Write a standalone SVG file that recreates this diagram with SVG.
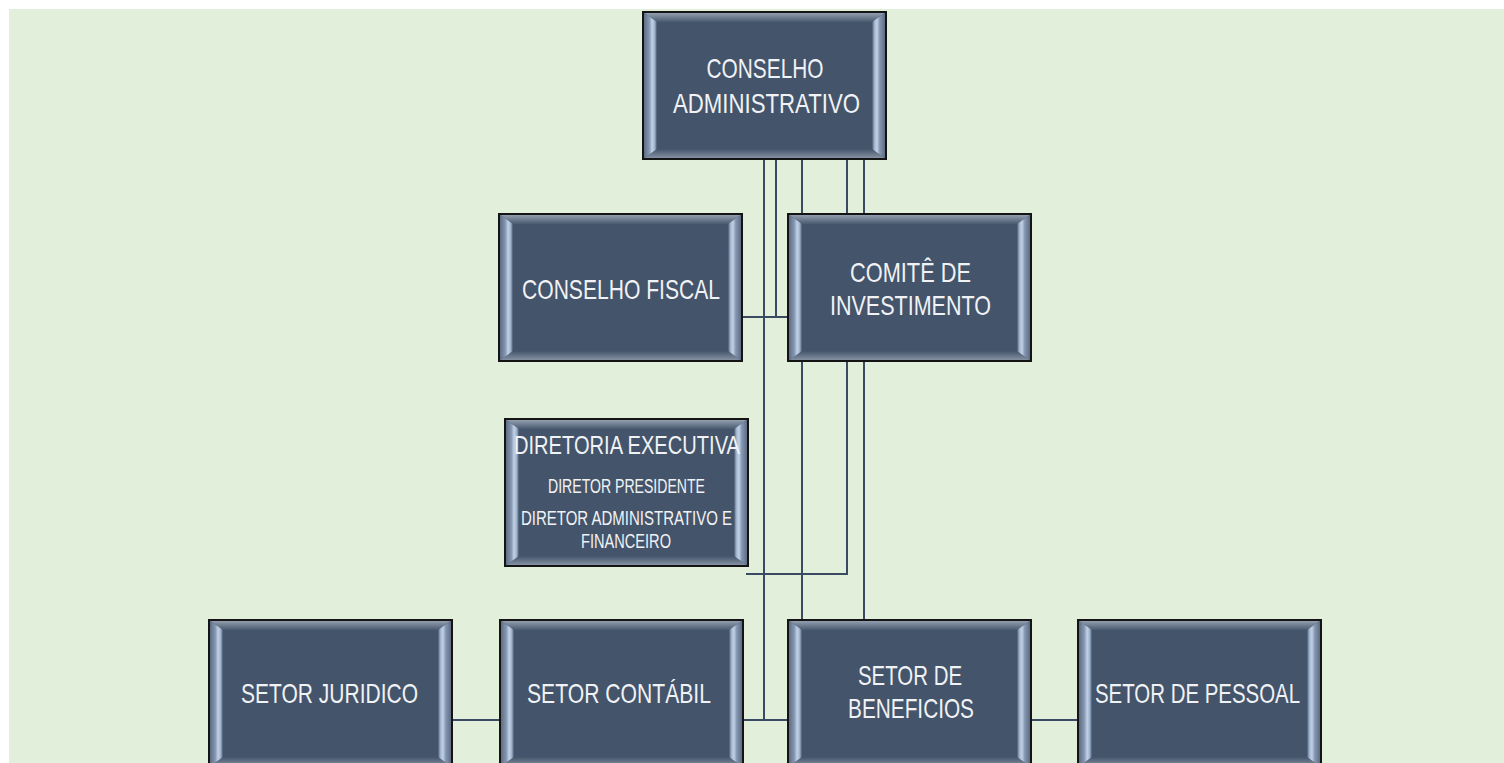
<svg xmlns="http://www.w3.org/2000/svg" xmlns:xlink="http://www.w3.org/1999/xlink" width="1504" height="763" viewBox="0 0 1504 763">
  <style>
    .t { font-family: "Liberation Sans", "Noto Sans", sans-serif; fill: #F0F2F5; text-anchor: middle; }
    .lg { font-size: 28px; }
    .md { font-size: 25px; }
    .sm { font-size: 20px; }
    .c { stroke: #3B4A63; stroke-width: 2; fill: none; }
  </style>
  <defs>
    <linearGradient id="gL" gradientUnits="userSpaceOnUse" x1="0" y1="0" x2="14" y2="0">
      <stop offset="0" stop-color="#56657C"/>
      <stop offset="0.45" stop-color="#8597B1"/>
      <stop offset="0.65" stop-color="#C2D3E8"/>
      <stop offset="0.85" stop-color="#9BAFCA"/>
      <stop offset="1" stop-color="#44546A"/>
    </linearGradient>
    <linearGradient id="gR" gradientUnits="userSpaceOnUse" x1="243" y1="0" x2="229" y2="0">
      <stop offset="0" stop-color="#56657C"/>
      <stop offset="0.45" stop-color="#8597B1"/>
      <stop offset="0.65" stop-color="#C2D3E8"/>
      <stop offset="0.85" stop-color="#9BAFCA"/>
      <stop offset="1" stop-color="#44546A"/>
    </linearGradient>
    <linearGradient id="gT" gradientUnits="userSpaceOnUse" x1="0" y1="0" x2="0" y2="10">
      <stop offset="0" stop-color="#9AA6B6"/>
      <stop offset="1" stop-color="#4A5A70"/>
    </linearGradient>
    <linearGradient id="gB" gradientUnits="userSpaceOnUse" x1="0" y1="137" x2="0" y2="147">
      <stop offset="0" stop-color="#44546A"/>
      <stop offset="1" stop-color="#8C98AA"/>
    </linearGradient>
    <symbol id="box" viewBox="0 0 243 147" width="243" height="147" overflow="visible">
      <rect x="0" y="0" width="243" height="147" fill="#44546A"/>
      <polygon points="0,0 243,0 229,10 14,10" fill="url(#gT)"/>
      <polygon points="0,147 243,147 229,137 14,137" fill="url(#gB)"/>
      <polygon points="0,0 14,10 14,137 0,147" fill="url(#gL)"/>
      <polygon points="243,0 229,10 229,137 243,147" fill="url(#gR)"/>
      <rect x="0" y="0" width="243" height="147" fill="none" stroke="#141414" stroke-width="2"/>
    </symbol>
  </defs>

  <rect x="9" y="9" width="1495" height="754" fill="#E2EFDA"/>

  <g id="connectors">
    <line class="c" x1="764" y1="159" x2="764" y2="720"/>
    <line class="c" x1="776" y1="159" x2="776" y2="317"/>
    <line class="c" x1="802" y1="159" x2="802" y2="620"/>
    <line class="c" x1="847" y1="159" x2="847" y2="574"/>
    <line class="c" x1="864" y1="159" x2="864" y2="620"/>
    <line class="c" x1="742" y1="317" x2="788" y2="317"/>
    <line class="c" x1="746" y1="574" x2="848" y2="574"/>
    <line class="c" x1="742" y1="720" x2="788" y2="720"/>
    <line class="c" x1="452" y1="720" x2="500" y2="720"/>
    <line class="c" x1="1031" y1="720" x2="1078" y2="720"/>
  </g>

  <g id="conselho-administrativo">
    <use xlink:href="#box" x="643" y="12"/>
    <text class="t lg" x="765" y="78" textLength="117" lengthAdjust="spacingAndGlyphs">CONSELHO</text>
    <text class="t lg" x="766.5" y="113" textLength="187" lengthAdjust="spacingAndGlyphs">ADMINISTRATIVO</text>
  </g>

  <g id="conselho-fiscal">
    <use xlink:href="#box" x="499" y="214"/>
    <text class="t lg" x="621" y="299" textLength="198" lengthAdjust="spacingAndGlyphs">CONSELHO FISCAL</text>
  </g>

  <g id="comite-investimento">
    <use xlink:href="#box" x="788" y="214"/>
    <text class="t lg" x="910.5" y="282" textLength="121" lengthAdjust="spacingAndGlyphs">COMITÊ DE</text>
    <text class="t lg" x="910.5" y="315" textLength="161" lengthAdjust="spacingAndGlyphs">INVESTIMENTO</text>
  </g>

  <g id="diretoria-executiva">
    <use xlink:href="#box" x="505" y="419"/>
    <text class="t md" x="627" y="454" textLength="226" lengthAdjust="spacingAndGlyphs">DIRETORIA EXECUTIVA</text>
    <text class="t sm" x="626.5" y="493" textLength="157" lengthAdjust="spacingAndGlyphs">DIRETOR PRESIDENTE</text>
    <text class="t sm" x="626.5" y="525" textLength="211" lengthAdjust="spacingAndGlyphs">DIRETOR ADMINISTRATIVO E</text>
    <text class="t sm" x="626" y="548" textLength="90" lengthAdjust="spacingAndGlyphs">FINANCEIRO</text>
  </g>

  <g id="setor-juridico">
    <use xlink:href="#box" x="209" y="620"/>
    <text class="t lg" x="329.5" y="703" textLength="177" lengthAdjust="spacingAndGlyphs">SETOR JURIDICO</text>
  </g>

  <g id="setor-contabil">
    <use xlink:href="#box" x="500" y="620"/>
    <text class="t lg" x="619" y="703" textLength="184" lengthAdjust="spacingAndGlyphs">SETOR CONTÁBIL</text>
  </g>

  <g id="setor-beneficios">
    <use xlink:href="#box" x="788" y="620"/>
    <text class="t lg" x="910" y="685" textLength="104" lengthAdjust="spacingAndGlyphs">SETOR DE</text>
    <text class="t lg" x="911" y="718" textLength="126" lengthAdjust="spacingAndGlyphs">BENEFICIOS</text>
  </g>

  <g id="setor-pessoal">
    <use xlink:href="#box" x="1078" y="620"/>
    <text class="t lg" x="1197.5" y="703" textLength="205" lengthAdjust="spacingAndGlyphs">SETOR DE PESSOAL</text>
  </g>
</svg>
